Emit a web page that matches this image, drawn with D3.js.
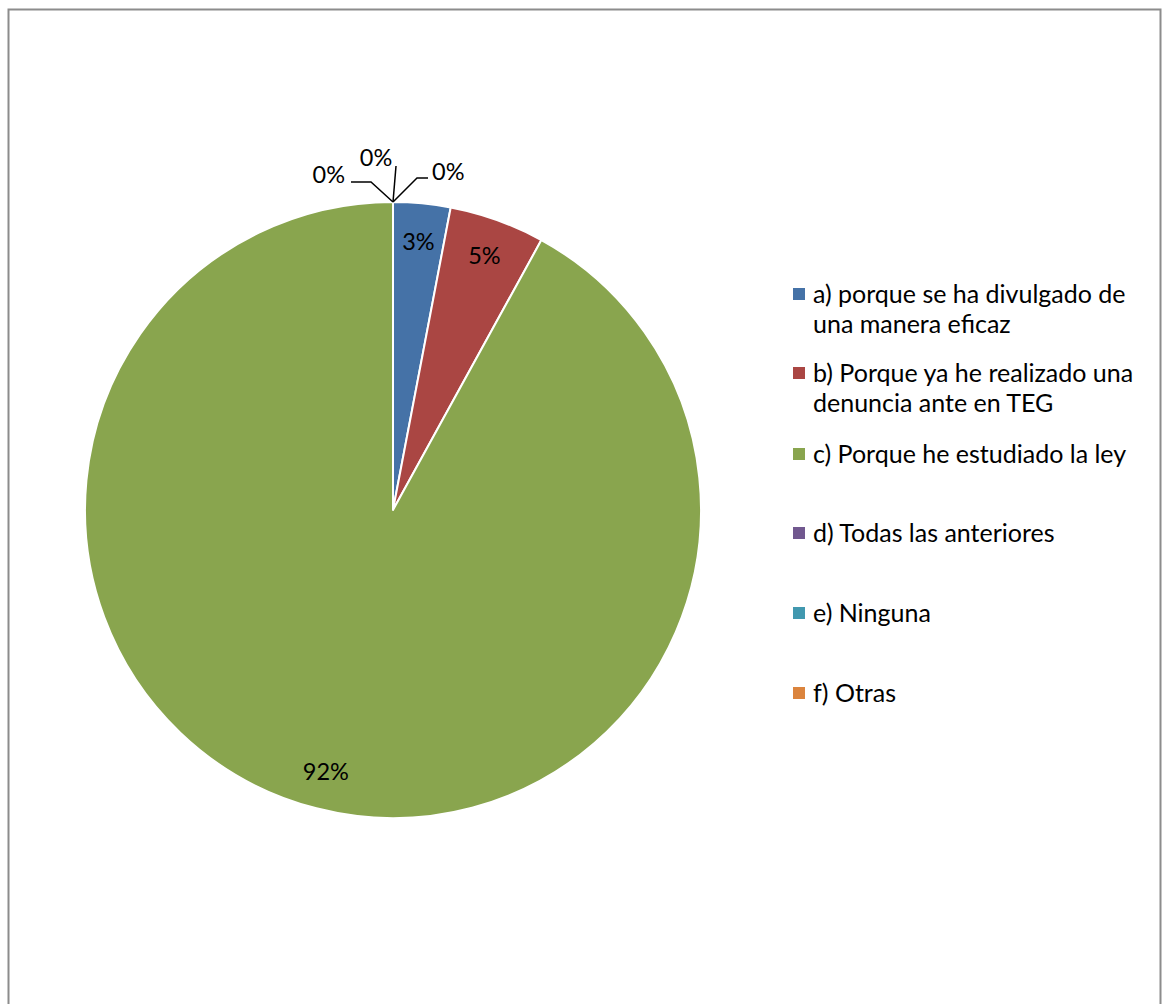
<!DOCTYPE html>
<html>
<head>
<meta charset="utf-8">
<script src="https://cdn.jsdelivr.net/npm/d3@7"></script>
<style>
  html, body { margin: 0; padding: 0; background: #fff; }
  svg { display: block; }
  text { font-family: Lato, "Open Sans", sans-serif; fill: #000; }
</style>
</head>
<body>
<svg id="chart" width="1162" height="1004"></svg>
<script>
// Survey answers and their shares (percent)
const categories = [
  "a) porque se ha divulgado de una manera eficaz",
  "b) Porque ya he realizado una denuncia ante en TEG",
  "c) Porque he estudiado la ley",
  "d) Todas las anteriores",
  "e) Ninguna",
  "f) Otras"
];
const legendLines = [
  ["a) porque se ha divulgado de", "una manera eficaz"],
  ["b) Porque ya he realizado una", "denuncia ante en TEG"],
  ["c) Porque he estudiado la ley"],
  ["d) Todas las anteriores"],
  ["e) Ninguna"],
  ["f) Otras"]
];
const values = [3, 5, 92, 0, 0, 0];
const colors = ["#4572A7", "#AA4643", "#89A54E", "#71588F", "#4198AF", "#DB843D"];

const svg = d3.select("#chart");

// Chart frame
svg.append("path")
  .attr("d", "M8.5,1004 V9.5 H1160.5 V1004")
  .attr("fill", "none")
  .attr("stroke", "#8c8c8c")
  .attr("stroke-width", 2);

const cx = 393, cy = 510, radius = 308;
const g = svg.append("g").attr("transform", `translate(${cx},${cy})`);

const data = categories.map((c, i) => ({ name: c, value: values[i], color: colors[i] }));

const pie = d3.pie().value(d => d.value).sort(null);
const arcs = pie(data);
const arc = d3.arc().innerRadius(0).outerRadius(radius);
const labelArc = d3.arc().innerRadius(270).outerRadius(270);

g.selectAll("path.slice")
  .data(arcs.filter(d => d.data.value > 0))
  .join("path")
  .attr("class", "slice")
  .attr("d", arc)
  .attr("fill", d => d.data.color)
  .attr("stroke", "#fff")
  .attr("stroke-width", 2)
  .attr("stroke-linejoin", "round");

const fmt = v => Math.round(v) + "%";
const labelSize = 23.5;

// Labels inside the non-empty slices
g.selectAll("text.inner")
  .data(arcs.filter(d => d.data.value > 0))
  .join("text")
  .attr("class", "inner")
  .attr("transform", d => `translate(${labelArc.centroid(d)})`)
  .attr("text-anchor", "middle")
  .attr("dy", "0.36em")
  .style("font-size", labelSize + "px")
  .text(d => fmt(d.data.value));

// Empty slices: labels pulled outside with leader lines from the slice point
const zeroArcs = arcs.filter(d => d.data.value === 0);
const leaderOffsets = [
  { bend: [-22, -20], end: [-42, -20], anchor: "end", tx: -48, ty: -27 },
  { bend: [3, -36], end: [3, -36], anchor: "middle", tx: -17, ty: -44 },
  { bend: [24, -24], end: [35, -24], anchor: "start", tx: 39, ty: -30 }
];
zeroArcs.forEach((d, i) => {
  const a = d.startAngle;
  const px = Math.sin(a) * radius, py = -Math.cos(a) * radius;
  const o = leaderOffsets[i];
  g.append("polyline")
    .attr("points", [[px, py], [px + o.bend[0], py + o.bend[1]], [px + o.end[0], py + o.end[1]]].map(p => p.join(",")).join(" "))
    .attr("fill", "none")
    .attr("stroke", "#000")
    .attr("stroke-width", 1.5);
  g.append("text")
    .attr("x", px + o.tx)
    .attr("y", py + o.ty)
    .attr("dy", "0.36em")
    .attr("text-anchor", o.anchor)
    .style("font-size", labelSize + "px")
    .text(fmt(d.data.value));
});

// Legend
const legend = svg.append("g").attr("transform", "translate(793,288)");
const itemTops = [0, 79, 160, 239, 319, 399];
const lineGap = 30;
legendLines.forEach((lines, i) => {
  const item = legend.append("g").attr("transform", `translate(0,${itemTops[i]})`);
  item.append("rect")
    .attr("width", 12).attr("height", 12)
    .attr("fill", colors[i]);
  lines.forEach((t, j) => {
    item.append("text")
      .attr("x", 20)
      .attr("y", 6 + j * lineGap)
      .attr("dy", "0.36em")
      .style("font-size", "25px")
      .text(t);
  });
});
</script>
</body>
</html>
